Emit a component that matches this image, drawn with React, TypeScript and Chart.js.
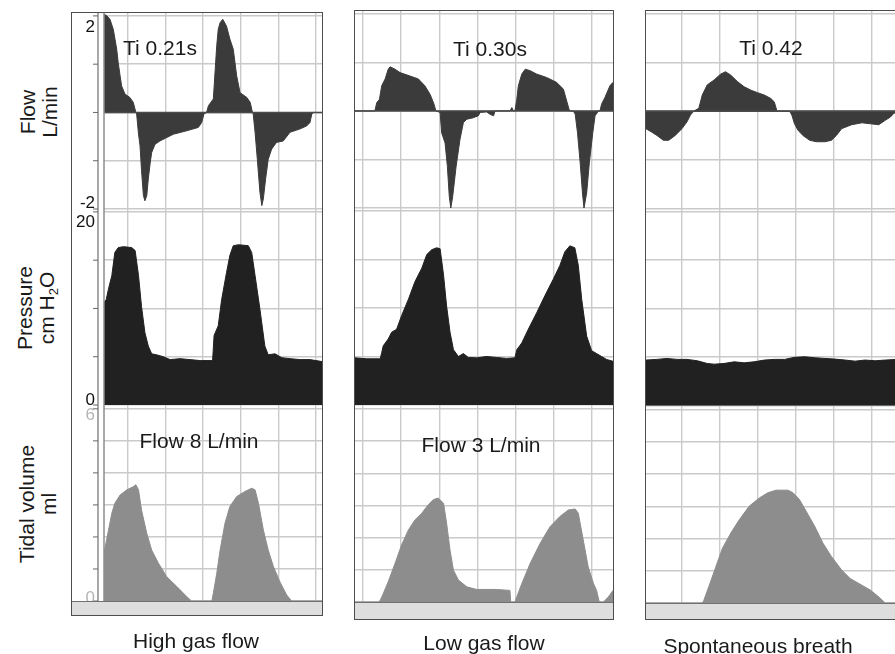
import React, { useEffect, useRef } from 'react';
import { Chart, registerables } from 'chart.js';

Chart.register(...registerables);

// ---------------- DATA (time in grid divisions) ----------------
// High gas flow
const highFlowT = [0.36,0.43,0.52,0.61,0.70,0.74,0.79,0.83,0.92,1.05,1.14,1.21,1.23,1.28,1.32,1.36,1.41,1.45,1.50,1.54,1.59,1.63,1.72,1.85,2.03,2.21,2.56,2.87,2.96,3.02,3.09,3.14,3.27,3.36,3.40,3.45,3.52,3.62,3.71,3.80,3.89,3.98,4.16,4.25,4.31,4.33,4.38,4.44,4.51,4.56,4.60,4.66,4.73,4.82,4.95,5.13,5.31,5.58,5.75,5.84,5.89,5.93,6.16];
const highFlowV = [2.03,2.01,1.93,1.72,1.31,1.03,0.76,0.55,0.38,0.31,0.21,0,-0.03,-0.45,-0.69,-1.2,-1.72,-1.83,-1.72,-1.38,-1.05,-0.83,-0.66,-0.59,-0.52,-0.45,-0.38,-0.31,-0.21,-0.03,0,0.14,0.28,1.38,1.72,1.86,1.93,1.79,1.52,1.31,0.76,0.41,0.31,0.21,0,-0.03,-0.41,-0.97,-1.66,-1.93,-1.79,-1.38,-0.97,-0.76,-0.62,-0.59,-0.41,-0.34,-0.28,-0.21,-0.03,0,0];
const highPresT = [0.36,0.42,0.48,0.57,0.65,0.74,0.88,1.10,1.19,1.28,1.36,1.45,1.54,1.63,1.76,1.94,2.12,2.38,2.65,2.92,3.25,3.29,3.40,3.49,3.62,3.71,3.80,3.94,4.20,4.29,4.38,4.51,4.64,4.73,4.91,5.09,5.31,5.58,5.84,6.16];
const highPresV = [10.6,10.9,12.0,13.4,15.8,16.3,16.4,16.3,16.0,13.4,10.2,7.5,6.1,5.3,5.2,5.0,4.7,4.8,4.7,4.6,4.6,7.2,8.2,10.9,13.7,15.5,16.5,16.6,16.5,15.8,13.4,9.9,6.1,5.2,5.3,4.9,4.8,4.7,4.7,4.5];
const highVolT = [0.36,0.48,0.57,0.65,0.79,0.97,1.14,1.21,1.28,1.36,1.50,1.63,1.81,2.03,2.30,2.56,2.69,3.23,3.27,3.36,3.45,3.58,3.71,3.89,4.11,4.29,4.38,4.47,4.60,4.73,4.87,5.04,5.22,5.35,6.16];
const highVolV = [1.49,2.2,2.74,3.05,3.31,3.47,3.57,3.63,3.47,2.84,2.11,1.59,1.18,0.76,0.45,0.14,0,0,0.24,0.86,1.59,2.43,2.95,3.26,3.42,3.52,3.47,3.05,2.22,1.59,1.07,0.6,0.19,0,0];

// Low gas flow
const lowFlowT = [0.79,1.31,1.36,1.43,1.49,1.58,1.66,1.71,1.84,1.97,2.23,2.45,2.62,2.76,2.86,2.91,3.02,3.06,3.15,3.21,3.26,3.30,3.35,3.44,3.54,3.63,3.72,3.89,4.02,4.07,4.24,4.33,4.42,4.46,4.85,4.90,4.94,4.98,5.03,5.07,5.16,5.25,5.38,5.55,5.81,6.07,6.25,6.35,6.41,6.51,6.56,6.62,6.69,6.75,6.79,6.86,6.93,7.02,7.08,7.17,7.21,7.25,7.34,7.47,7.55];
const lowFlowV = [0,0,0.17,0.24,0.52,0.66,0.86,0.91,0.86,0.79,0.72,0.66,0.52,0.34,0.14,0,-0.03,-0.45,-0.66,-1.14,-1.76,-2.0,-1.76,-1.14,-0.59,-0.24,-0.17,-0.14,-0.10,-0.03,-0.02,-0.07,-0.10,0,0,0.07,0,0,0.24,0.52,0.76,0.86,0.83,0.76,0.69,0.59,0.45,0.17,0,0,-0.07,-0.45,-1.07,-1.69,-2.0,-1.69,-1.07,-0.45,-0.10,0,0,0.14,0.28,0.52,0.59];
const lowPresT = [0.79,1.10,1.45,1.49,1.53,1.66,1.75,1.88,2.01,2.19,2.36,2.54,2.67,2.80,2.93,3.02,3.11,3.19,3.28,3.37,3.50,3.63,3.76,3.98,4.24,4.50,4.76,4.98,5.03,5.16,5.33,5.55,5.77,5.99,6.16,6.29,6.42,6.55,6.64,6.73,6.86,6.99,7.12,7.25,7.38,7.55];
const lowPresV = [4.86,4.76,4.76,5.4,6.1,6.8,7.5,7.8,9.2,10.9,12.7,14.1,15.5,16.0,16.2,16.1,13.4,10.2,7.5,5.7,5.0,5.3,4.9,4.86,5.0,4.9,4.8,4.86,5.7,6.4,7.8,9.5,11.3,13.0,14.4,15.8,16.4,16.2,14.4,10.9,7.1,5.6,5.3,5.0,4.7,4.5];
const lowVolT = [0.79,1.40,1.45,1.53,1.66,1.84,2.01,2.19,2.36,2.54,2.71,2.84,2.97,3.11,3.19,3.28,3.37,3.50,3.72,3.98,4.50,4.85,4.87,4.98,5.03,5.16,5.38,5.64,5.90,6.16,6.38,6.56,6.64,6.77,6.90,7.04,7.12,7.19,7.30,7.43,7.55];
const lowVolV = [0,0,0.05,0.26,0.63,1.2,1.77,2.24,2.55,2.76,3.02,3.18,3.23,3.07,2.45,1.61,0.99,0.68,0.47,0.39,0.39,0.36,0,0,0.16,0.57,1.2,1.82,2.34,2.66,2.86,2.89,2.76,1.93,1.09,0.57,0.36,0,0,0.16,0.36];

// Spontaneous breath
const spFlowT = [0.07,0.22,0.36,0.53,0.67,0.84,1.02,1.15,1.24,1.33,1.46,1.55,1.68,1.86,2.03,2.16,2.30,2.47,2.65,2.83,3.00,3.18,3.35,3.44,3.51,3.84,3.90,3.97,4.06,4.19,4.37,4.55,4.77,4.94,5.07,5.21,5.47,5.74,5.96,6.18,6.35,6.49,6.57,6.66];
const spFlowV = [-0.36,-0.43,-0.5,-0.6,-0.6,-0.5,-0.36,-0.22,-0.08,0,0.06,0.33,0.54,0.64,0.76,0.81,0.74,0.61,0.5,0.43,0.38,0.33,0.26,0.19,0,0,-0.08,-0.26,-0.39,-0.5,-0.6,-0.63,-0.63,-0.6,-0.5,-0.36,-0.28,-0.24,-0.26,-0.28,-0.19,-0.12,-0.05,-0.02];
const spPresT = [0.07,0.36,0.62,0.89,1.15,1.42,1.68,1.86,2.12,2.39,2.65,2.91,3.18,3.44,3.71,3.97,4.24,4.50,4.77,5.03,5.30,5.56,5.82,6.09,6.35,6.66];
const spPresV = [4.69,4.76,4.86,4.76,4.76,4.62,4.34,4.27,4.34,4.51,4.41,4.51,4.69,4.76,4.76,4.97,5.03,4.93,4.86,4.79,4.69,4.58,4.69,4.62,4.69,4.76];
const spVolT = [0.07,1.55,1.59,1.72,1.90,2.08,2.30,2.52,2.78,3.05,3.27,3.49,3.80,3.93,4.10,4.28,4.50,4.72,4.94,5.21,5.43,5.74,5.96,6.18,6.35,6.66];
const spVolV = [0,0,0.08,0.5,1.1,1.7,2.17,2.58,3.0,3.26,3.42,3.5,3.5,3.42,3.21,2.84,2.38,1.85,1.44,1.02,0.76,0.55,0.4,0.19,0,0];

// Axes
const flowTicks = [-2, -1, 0, 1, 2];
const pressureTicks = [0, 5, 10, 15, 20];
const volumeTicks = [0, 1, 2, 3, 4, 5, 6];
const flowRange = [-2, 2.06];
const pressureRange = [0, 20.3];
const volumeRange = [0, 6.12];
const flowAxisLabels = ['2', '-2'];
const pressureAxisLabels = ['20', '0'];
const volumeAxisLabels = ['6', '0'];
const timeMin = [0.362, 0.79, 0.074];
const timeMax = [6.16, 7.55, 6.66];

// Text
const columnTitles = ['High gas flow', 'Low gas flow', 'Spontaneous breath'];
const tiLabels = ['Ti 0.21s', 'Ti 0.30s', 'Ti 0.42'];
const gasFlowLabels = ['Flow 8 L/min', 'Flow 3 L/min'];

const FONT = "'Liberation Sans', Arial, Helvetica, sans-serif";
const GRID = '#cacaca';

function makePlugin(showAxis: boolean) {
  return {
    id: 'waveDeco',
    afterDatasetsDraw(chart: any) {
      const { ctx, chartArea: a, scales } = chart;
      const y0 = scales.yF.getPixelForValue(0);
      ctx.save();
      ctx.strokeStyle = '#4a4a4a';
      ctx.lineWidth = 1.6;
      ctx.beginPath();
      ctx.moveTo(a.left, y0);
      ctx.lineTo(a.right, y0);
      ctx.stroke();
      ctx.restore();
    },
    afterDraw(chart: any) {
      if (!showAxis) return;
      const { ctx, chartArea: a, scales } = chart;
      ctx.save();
      ctx.strokeStyle = '#8c8c8c';
      ctx.lineWidth = 1.5;
      [a.left - 6, a.left].forEach((x) => {
        ctx.beginPath();
        ctx.moveTo(x, a.top);
        ctx.lineTo(x, a.bottom);
        ctx.stroke();
      });
      const sets: [any, number[]][] = [
        [scales.yF, flowTicks],
        [scales.yP, pressureTicks],
        [scales.yV, volumeTicks],
      ];
      ctx.strokeStyle = '#666';
      ctx.lineWidth = 1;
      for (const [s, ticks] of sets) {
        for (const v of ticks) {
          const y = s.getPixelForValue(v);
          ctx.beginPath();
          ctx.moveTo(a.left - 11, y);
          ctx.lineTo(a.left - 6, y);
          ctx.stroke();
        }
      }
      ctx.font = `17px ${FONT}`;
      ctx.textAlign = 'right';
      ctx.textBaseline = 'middle';
      const labelSets: [any, string[], number[], string][] = [
        [scales.yF, flowAxisLabels, [11, -6], '#111'],
        [scales.yP, pressureAxisLabels, [10, -5], '#111'],
        [scales.yV, volumeAxisLabels, [6, -3], '#b5b5b5'],
      ];
      for (const [s, labels, dys, color] of labelSets) {
        ctx.fillStyle = color;
        labels.forEach((lab, i) => {
          const y = s.getPixelForValue(Number(lab)) + dys[i];
          ctx.fillText(lab, a.left - 9, y);
        });
      }
      ctx.restore();
    },
  };
}

type Geom = {
  left: number; right: number; top: number; chartBottom: number; frameBottom: number; axisW: number;
};

type PanelProps = {
  geom: Geom;
  idx: number;
  flowT: number[]; flowV: number[];
  presT: number[]; presV: number[];
  volT: number[]; volV: number[];
};

function Panel({ geom, idx, flowT, flowV, presT, presV, volT, volV }: PanelProps) {
  const ref = useRef<HTMLCanvasElement>(null);
  const w = geom.right - geom.left;
  const h = geom.chartBottom - geom.top;

  useEffect(() => {
    if (!ref.current) return;
    const ds = (t: number[], v: number[], axis: string, color: string) => ({
      data: t.map((x, i) => ({ x, y: v[i] })),
      yAxisID: axis,
      fill: 'origin',
      backgroundColor: color,
      borderColor: color,
      borderWidth: 1,
      pointRadius: 0,
      tension: 0,
    });
    const yScale = (range: number[], ticks: number[], weight: number) => ({
      type: 'linear',
      position: 'left',
      stack: 'wave',
      stackWeight: 1,
      weight,
      min: range[0],
      max: range[1],
      ticks: { display: false },
      border: { display: false },
      grid: { drawTicks: false, color: GRID, lineWidth: 1.4 },
      afterBuildTicks: (s: any) => {
        s.ticks = ticks.map((v) => ({ value: v }));
      },
    });
    const tMin = timeMin[idx];
    const tMax = timeMax[idx];
    const chart = new Chart(ref.current, {
      type: 'line',
      data: {
        datasets: [
          ds(flowT, flowV, 'yF', '#3b3b3b'),
          ds(presT, presV, 'yP', '#212121'),
          ds(volT, volV, 'yV', '#8d8d8d'),
        ] as any,
      },
      options: {
        animation: false,
        responsive: false,
        devicePixelRatio: 1,
        events: [],
        layout: { padding: { left: geom.axisW, right: 0, top: 0, bottom: 0 }, autoPadding: false } as any,
        plugins: { legend: { display: false }, tooltip: { enabled: false } },
        scales: {
          x: {
            type: 'linear',
            min: tMin,
            max: tMax,
            ticks: { display: false },
            border: { display: false },
            grid: { drawTicks: false, color: GRID, lineWidth: 1.4 },
            afterBuildTicks: (s: any) => {
              const arr = [];
              for (let v = Math.ceil(tMin); v <= Math.floor(tMax); v++) arr.push({ value: v });
              s.ticks = arr;
            },
          },
          yV: yScale(volumeRange, volumeTicks, 1),
          yP: yScale(pressureRange, pressureTicks, 2),
          yF: yScale(flowRange, flowTicks, 3),
        } as any,
      },
      plugins: [makePlugin(geom.axisW > 0)],
    });
    return () => chart.destroy();
  }, []);

  return (
    <>
      <canvas
        ref={ref}
        width={w}
        height={h}
        style={{ position: 'absolute', left: geom.left, top: geom.top, width: w, height: h }}
      />
      <div
        style={{
          position: 'absolute',
          left: geom.left,
          top: geom.chartBottom,
          width: w,
          height: geom.frameBottom - geom.chartBottom,
          background: '#dedede',
          borderTop: '1.5px solid #707070',
          boxSizing: 'border-box',
        }}
      />
      <div
        style={{
          position: 'absolute',
          left: geom.left - 1,
          top: geom.top - 1,
          width: w + 2,
          height: geom.frameBottom - geom.top + 2,
          border: '1.5px solid #4d4d4d',
          boxSizing: 'border-box',
        }}
      />
    </>
  );
}

function Label({ x, y, text, size = 21, color = '#1a1a1a' }: { x: number; y: number; text: React.ReactNode; size?: number; color?: string }) {
  return (
    <div
      style={{
        position: 'absolute',
        left: x,
        top: y,
        transform: 'translate(-50%, -50%)',
        fontFamily: FONT,
        fontSize: size,
        color,
        whiteSpace: 'nowrap',
        lineHeight: 1,
      }}
    >
      {text}
    </div>
  );
}

function VLabel({ x, y, lines }: { x: number; y: number; lines: React.ReactNode[] }) {
  return (
    <div
      style={{
        position: 'absolute',
        left: x,
        top: y,
        transform: 'translate(-50%, -50%) rotate(-90deg)',
        fontFamily: FONT,
        fontSize: 21,
        color: '#1a1a1a',
        whiteSpace: 'nowrap',
        lineHeight: '22px',
        textAlign: 'center',
      }}
    >
      {lines.map((l, i) => (
        <div key={i}>{l}</div>
      ))}
    </div>
  );
}

const geoms: Geom[] = [
  { left: 72, right: 322, top: 13, chartBottom: 601, frameBottom: 615, axisW: 32 },
  { left: 355, right: 613, top: 11, chartBottom: 602, frameBottom: 619, axisW: 0 },
  { left: 646, right: 897, top: 11, chartBottom: 603, frameBottom: 619, axisW: 0 },
];

export default function App() {
  return (
    <div
      style={{
        position: 'absolute',
        left: 0,
        top: 0,
        width: 895,
        height: 654,
        overflow: 'hidden',
        background: '#ffffff',
      }}
    >
      <Panel geom={geoms[0]} idx={0} flowT={highFlowT} flowV={highFlowV} presT={highPresT} presV={highPresV} volT={highVolT} volV={highVolV} />
      <Panel geom={geoms[1]} idx={1} flowT={lowFlowT} flowV={lowFlowV} presT={lowPresT} presV={lowPresV} volT={lowVolT} volV={lowVolV} />
      <Panel geom={geoms[2]} idx={2} flowT={spFlowT} flowV={spFlowV} presT={spPresT} presV={spPresV} volT={spVolT} volV={spVolV} />

      <Label x={160} y={47} text={tiLabels[0]} />
      <Label x={490} y={48} text={tiLabels[1]} />
      <Label x={771} y={47} text={tiLabels[2]} />
      <Label x={199} y={440} text={gasFlowLabels[0]} />
      <Label x={481} y={444} text={gasFlowLabels[1]} />

      <VLabel x={39} y={112} lines={['Flow', 'L/min']} />
      <VLabel x={37} y={308} lines={['Pressure', <span key="h">cm H<sub style={{ fontSize: 13, verticalAlign: 'baseline', position: 'relative', top: 4 }}>2</sub>O</span>]} />
      <VLabel x={38} y={504} lines={['Tidal volume', 'ml']} />

      <Label x={196} y={640} text={columnTitles[0]} />
      <Label x={484} y={642} text={columnTitles[1]} />
      <Label x={758} y={645} text={columnTitles[2]} />
    </div>
  );
}
